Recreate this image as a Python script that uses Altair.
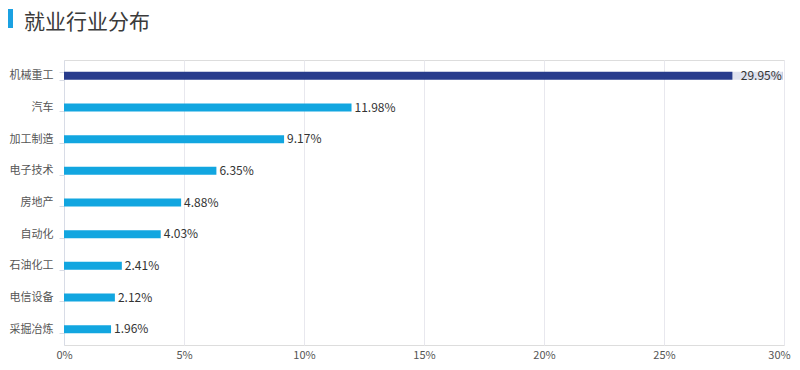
import altair as alt
import pandas as pd

categories = ["机械重工", "汽车", "加工制造", "电子技术", "房地产", "自动化", "石油化工", "电信设备", "采掘冶炼"]
values = [29.95, 11.98, 9.17, 6.35, 4.88, 4.03, 2.41, 2.12, 1.96]
highlight = [True, False, False, False, False, False, False, False, False]
x_ticks = [0, 5, 10, 15, 20, 25, 30]

df = pd.DataFrame({"cat": categories, "val": values, "hl": highlight})
df["label"] = [f"{v:.2f}%" for v in values]

FONT = "Noto Sans CJK SC"

y_enc = alt.Y("cat:N", sort=categories, title=None,
              scale=alt.Scale(paddingInner=0.75, paddingOuter=0.375),
              axis=alt.Axis(labelFont=FONT, labelFontSize=11, labelColor="#555555",
                            labelPadding=6, domainColor="#d8dce6", tickColor="#d8dce6",
                            tickSize=5, tickBand="extent", grid=False))
x_scale = alt.Scale(domain=[0, 30], nice=False)
x_enc = alt.X("val:Q", scale=x_scale, title=None,
              axis=alt.Axis(values=x_ticks, labelExpr="datum.value + '%'",
                            labelFont=FONT, labelFontSize=11, labelColor="#555555",
                            labelFlush=False, labelBound=False,
                            labelOffset=alt.ExprRef("datum.value == 30 ? -5 : 0"),
                            grid=True, gridColor="#e8e8ee", domain=False, ticks=False,
                            labelPadding=4))

base = alt.Chart(df)

bars = base.mark_bar(size=8).encode(
    x=x_enc, y=y_enc,
    color=alt.condition("datum.hl", alt.value("#283c8c"), alt.value("#12a6e0")),
)

outside = base.transform_filter("!datum.hl").mark_text(
    align="left", dx=3, font=FONT, fontSize=12, color="#333333"
).encode(x=alt.X("val:Q", scale=x_scale), y=alt.Y("cat:N", sort=categories), text="label:N")

inside_bg = base.transform_filter("datum.hl").transform_calculate(
    x0="datum.val - 2.1"
).mark_bar(size=12, color="#ffffff", opacity=0.85).encode(
    x=alt.X("x0:Q", scale=x_scale), x2="val:Q", y=alt.Y("cat:N", sort=categories)
)

inside = base.transform_filter("datum.hl").mark_text(
    align="right", dx=-1, font=FONT, fontSize=12, color="#333333"
).encode(x=alt.X("val:Q", scale=x_scale), y=alt.Y("cat:N", sort=categories), text="label:N")

accent = alt.Chart(df).transform_filter("datum.hl").mark_rect(color="#1ba1e2").encode(
    x=alt.value(-56), x2=alt.value(-51), y=alt.value(-51), y2=alt.value(-32)
)

title = alt.Chart(df).transform_filter("datum.hl").mark_text(
    align="left", baseline="alphabetic", font="Liberation Sans, Noto Sans CJK SC",
    fontSize=21, color="#3a3a3a", text="就业行业分布"
).encode(x=alt.value(-40), y=alt.value(-31))

chart = alt.layer(bars, inside_bg, inside, outside, accent, title).properties(
    width=720, height=285,
    autosize=alt.AutoSizeParams(type="none"),
    padding={"left": 56, "top": 52, "right": 8, "bottom": 20},
).configure_view(stroke=None).configure(background="#ffffff")

chart.save("out.html", embed_options={"renderer": "svg", "actions": False})
